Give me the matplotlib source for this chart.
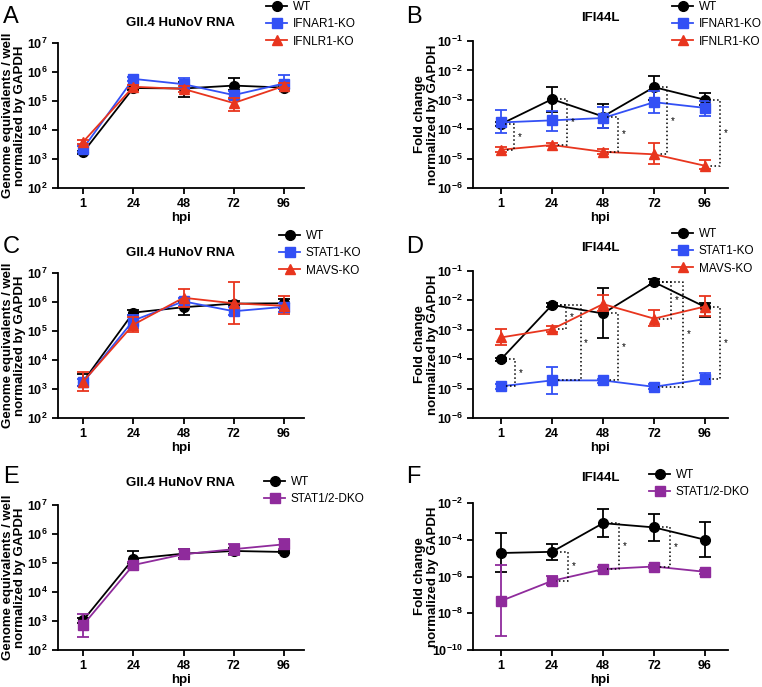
import matplotlib
matplotlib.use('Agg')
import matplotlib.pyplot as plt
import numpy as np

plt.rcParams['font.family'] = ['Liberation Sans', 'DejaVu Sans']
plt.rcParams['mathtext.fontset'] = 'custom'
plt.rcParams['mathtext.rm'] = 'Liberation Sans:bold'
plt.rcParams['mathtext.bf'] = 'Liberation Sans:bold'
plt.rcParams['mathtext.default'] = 'bf'

hpi = ['1', '24', '48', '72', '96']

# A: GII.4 HuNoV RNA (WT / IFNAR1-KO / IFNLR1-KO)
a_wt = [1.7e3, 2.8e5, 2.7e5, 3.4e5, 2.9e5]
a_wt_lo = [1.5e3, 2.4e5, 1.4e5, 2.4e5, 2.5e5]
a_wt_hi = [1.9e3, 3.3e5, 4.6e5, 6.0e5, 3.4e5]
a_ifnar1 = [2.3e3, 5.8e5, 3.8e5, 1.6e5, 4.0e5]
a_ifnar1_lo = [1.8e3, 4.8e5, 2.5e5, 1.2e5, 2.5e5]
a_ifnar1_hi = [2.8e3, 6.8e5, 6.0e5, 2.2e5, 8.0e5]
a_ifnlr1 = [3.9e3, 3.1e5, 2.6e5, 8.5e4, 3.3e5]
a_ifnlr1_lo = [3.3e3, 2.7e5, 2.0e5, 4.5e4, 2.7e5]
a_ifnlr1_hi = [4.5e3, 3.6e5, 3.4e5, 1.3e5, 4.2e5]

# B: IFI44L
b_wt = [1.5e-4, 1.05e-3, 2.7e-4, 2.7e-3, 1.0e-3]
b_wt_lo = [1.3e-4, 3.8e-4, 1.1e-4, 1.0e-3, 6.5e-4]
b_wt_hi = [1.8e-4, 2.8e-3, 7.0e-4, 6.5e-3, 1.7e-3]
b_ifnar1 = [1.7e-4, 2.0e-4, 2.4e-4, 8.3e-4, 5.3e-4]
b_ifnar1_lo = [7.5e-5, 8.5e-5, 1.1e-4, 3.5e-4, 2.9e-4]
b_ifnar1_hi = [4.5e-4, 4.3e-4, 5.8e-4, 2.0e-3, 9.0e-4]
b_ifnlr1 = [2.0e-5, 2.9e-5, 1.7e-5, 1.4e-5, 5.7e-6]
b_ifnlr1_lo = [1.7e-5, 2.6e-5, 1.4e-5, 6.5e-6, 4.5e-6]
b_ifnlr1_hi = [2.5e-5, 3.3e-5, 2.2e-5, 3.4e-5, 9.0e-6]

# C: GII.4 HuNoV RNA (WT / STAT1-KO / MAVS-KO)
c_wt = [1.8e3, 4.3e5, 6.6e5, 8.8e5, 9.0e5]
c_wt_lo = [1.3e3, 3.5e5, 3.7e5, 7.0e5, 6.0e5]
c_wt_hi = [3.3e3, 5.2e5, 1.0e6, 1.1e6, 1.3e6]
c_stat1 = [1.7e3, 2.3e5, 1.05e6, 4.8e5, 6.8e5]
c_stat1_lo = [1.3e3, 1.3e5, 7.0e5, 3.5e5, 4.5e5]
c_stat1_hi = [2.3e3, 3.5e5, 1.4e6, 6.5e5, 9.0e5]
c_mavs = [1.8e3, 1.65e5, 1.4e6, 9.0e5, 7.4e5]
c_mavs_lo = [8.5e2, 9.0e4, 6.8e5, 1.7e5, 4.0e5]
c_mavs_hi = [3.8e3, 3.0e5, 2.9e6, 4.9e6, 1.6e6]

# D: IFI44L
d_wt = [1.0e-4, 7.0e-3, 3.6e-3, 4.2e-2, 6.0e-3]
d_wt_lo = [9.0e-5, 6.0e-3, 5.3e-4, 3.3e-2, 2.7e-3]
d_wt_hi = [1.1e-4, 8.0e-3, 2.6e-2, 5.2e-2, 8.0e-3]
d_stat1 = [1.2e-5, 1.9e-5, 1.9e-5, 1.15e-5, 2.1e-5]
d_stat1_lo = [1.0e-5, 6.5e-6, 1.6e-5, 9.5e-6, 1.4e-5]
d_stat1_hi = [1.4e-5, 5.3e-5, 2.2e-5, 1.4e-5, 3.3e-5]
d_mavs = [5.5e-4, 1.05e-3, 7.5e-3, 2.4e-3, 6.2e-3]
d_mavs_lo = [3.0e-4, 8.5e-4, 4.2e-3, 1.3e-3, 3.0e-3]
d_mavs_hi = [1.05e-3, 1.35e-3, 1.5e-2, 4.8e-3, 1.4e-2]

# E: GII.4 HuNoV RNA (WT / STAT1/2-DKO)
e_wt = [1.05e3, 1.4e5, 2.1e5, 2.6e5, 2.4e5]
e_wt_lo = [8.5e2, 1.0e5, 1.5e5, 2.0e5, 2.2e5]
e_wt_hi = [1.3e3, 2.6e5, 3.0e5, 3.3e5, 2.7e5]
e_dko = [7.3e2, 8.5e4, 2.0e5, 3.0e5, 4.4e5]
e_dko_lo = [2.8e2, 6.5e4, 1.4e5, 1.9e5, 3.0e5]
e_dko_hi = [1.7e3, 1.1e5, 3.0e5, 4.7e5, 6.5e5]

# F: IFI44L
f_wt = [1.9e-5, 2.2e-5, 8.0e-4, 4.7e-4, 1.0e-4]
f_wt_lo = [1.7e-6, 8.0e-6, 1.4e-4, 9.0e-5, 1.1e-5]
f_wt_hi = [2.4e-4, 6.0e-5, 4.5e-3, 2.5e-3, 9.0e-4]
f_dko = [4.7e-8, 5.8e-7, 2.5e-6, 3.5e-6, 1.8e-6]
f_dko_lo = [6.0e-10, 3.3e-7, 2.0e-6, 2.8e-6, 1.4e-6]
f_dko_hi = [4.2e-6, 1.1e-6, 3.1e-6, 4.4e-6, 2.3e-6]

BLACK = '#000000'
BLUE = '#3350f5'
RED = '#e8351e'
PURPLE = '#8f2b9c'

W, H = 762, 687
fig = plt.figure(figsize=(W / 100, H / 100), dpi=100)


def px_axes(left, top, right, bottom):
    return fig.add_axes([left / W, 1 - bottom / H, (right - left) / W, (bottom - top) / H])


def draw(ax, series, ylim, yticks, xlim, ylabel, ylab_x):
    x = np.arange(len(hpi))
    for name, vals, lo, hi, color, marker in series:
        vals = np.array(vals)
        err = [vals - np.array(lo), np.array(hi) - vals]
        ax.errorbar(x, vals, yerr=err, fmt='none', ecolor=color, elinewidth=1.3,
                    capsize=4.5, capthick=1.3)
        ax.plot(x, vals, color=color, marker=marker, markersize=7, lw=1.3, label=name)
    ax.set_yscale('log')
    ax.set_ylim(ylim)
    ax.set_xlim(xlim)
    ax.set_yticks(yticks)
    ax.set_yticklabels([r'$10^{%d}$' % int(np.log10(t)) for t in yticks])
    ax.yaxis.set_minor_locator(matplotlib.ticker.NullLocator())
    ax.set_xticks(x)
    ax.set_xticklabels(hpi, fontweight='bold')
    ax.tick_params(labelsize=9, width=1.3, length=4)
    for s in ['top', 'right']:
        ax.spines[s].set_visible(False)
    for s in ['left', 'bottom']:
        ax.spines[s].set_linewidth(1.3)
    ax.set_xlabel('hpi', fontsize=9.5, fontweight='bold', labelpad=1)
    ax.set_ylabel(ylabel, fontsize=9.5, fontweight='bold', linespacing=1.05)
    ax.yaxis.set_label_coords(ylab_x, 0.5)


def brackets(ax, top, bots):
    for i, bot, off in bots:
        ax.plot([i + 0.08, i + off, i + off, i + 0.08], [top[i], top[i], bot[i], bot[i]],
                ':', color='k', lw=1.1)
        ax.text(i + off + 0.11, np.sqrt(top[i] * bot[i]), '*', fontsize=7,
                ha='center', va='center')


def legend(ax, left, top):
    leg = fig.legend(*ax.get_legend_handles_labels(), loc='upper left',
                     bbox_to_anchor=(left / W, 1 - top / H), frameon=False,
                     fontsize=8.5, borderpad=0, borderaxespad=0, handlelength=1.8,
                     handletextpad=0.45, labelspacing=0.45)
    return leg


rna_label = 'Genome equivalents / well\nnormalized by GAPDH'
fc_label = 'Fold change\nnormalized by GAPDH'
rna_ticks = [1e2, 1e3, 1e4, 1e5, 1e6, 1e7]
fc_ticks = [1e-6, 1e-5, 1e-4, 1e-3, 1e-2, 1e-1]

# A
axA = px_axes(58, 43, 304, 188)
draw(axA, [('WT', a_wt, a_wt_lo, a_wt_hi, BLACK, 'o'),
           ('IFNAR1-KO', a_ifnar1, a_ifnar1_lo, a_ifnar1_hi, BLUE, 's'),
           ('IFNLR1-KO', a_ifnlr1, a_ifnlr1_lo, a_ifnlr1_hi, RED, '^')],
     (1e2, 1e7), rna_ticks, (-0.5, 4.4), rna_label, -0.13)
axA.text(0.5, 1.138, 'GII.4 HuNoV RNA', transform=axA.transAxes, ha='center',
         va='center', fontsize=9.5, fontweight='bold')
legend(axA, 266, 1)

# B
axB = px_axes(473, 41, 728, 188)
draw(axB, [('WT', b_wt, b_wt_lo, b_wt_hi, BLACK, 'o'),
           ('IFNAR1-KO', b_ifnar1, b_ifnar1_lo, b_ifnar1_hi, BLUE, 's'),
           ('IFNLR1-KO', b_ifnlr1, b_ifnlr1_lo, b_ifnlr1_hi, RED, '^')],
     (1e-6, 1e-1), fc_ticks, (-0.55, 4.45), fc_label, -0.135)
brackets(axB, b_wt, [(0, b_ifnlr1, 0.25), (1, b_ifnlr1, 0.3), (2, b_ifnlr1, 0.29),
                     (3, b_ifnlr1, 0.25), (4, b_ifnlr1, 0.29)])
axB.text(0.5, 1.156, 'IFI44L', transform=axB.transAxes, ha='center',
         va='center', fontsize=9.5, fontweight='bold')
legend(axB, 672, 1)

# C
axC = px_axes(58, 273, 304, 418)
draw(axC, [('WT', c_wt, c_wt_lo, c_wt_hi, BLACK, 'o'),
           ('STAT1-KO', c_stat1, c_stat1_lo, c_stat1_hi, BLUE, 's'),
           ('MAVS-KO', c_mavs, c_mavs_lo, c_mavs_hi, RED, '^')],
     (1e2, 1e7), rna_ticks, (-0.5, 4.4), rna_label, -0.13)
axC.text(0.5, 1.138, 'GII.4 HuNoV RNA', transform=axC.transAxes, ha='center',
         va='center', fontsize=9.5, fontweight='bold')
legend(axC, 279, 230)

# D
axD = px_axes(473, 271, 728, 418)
draw(axD, [('WT', d_wt, d_wt_lo, d_wt_hi, BLACK, 'o'),
           ('STAT1-KO', d_stat1, d_stat1_lo, d_stat1_hi, BLUE, 's'),
           ('MAVS-KO', d_mavs, d_mavs_lo, d_mavs_hi, RED, '^')],
     (1e-6, 1e-1), fc_ticks, (-0.55, 4.45), fc_label, -0.135)
brackets(axD, d_wt, [(0, d_stat1, 0.28), (1, d_mavs, 0.28), (1, d_stat1, 0.56),
                     (2, d_stat1, 0.29), (3, d_mavs, 0.33), (3, d_stat1, 0.57),
                     (4, d_stat1, 0.29)])
axD.text(0.5, 1.156, 'IFI44L', transform=axD.transAxes, ha='center',
         va='center', fontsize=9.5, fontweight='bold')
legend(axD, 672, 228)

# E
axE = px_axes(58, 505, 304, 650)
draw(axE, [('WT', e_wt, e_wt_lo, e_wt_hi, BLACK, 'o'),
           ('STAT1/2-DKO', e_dko, e_dko_lo, e_dko_hi, PURPLE, 's')],
     (1e2, 1e7), rna_ticks, (-0.5, 4.4), rna_label, -0.13)
axE.text(0.5, 1.152, 'GII.4 HuNoV RNA', transform=axE.transAxes, ha='center',
         va='center', fontsize=9.5, fontweight='bold')
legend(axE, 264, 476)

# F
axF = px_axes(473, 503, 728, 650)
draw(axF, [('WT', f_wt, f_wt_lo, f_wt_hi, BLACK, 'o'),
           ('STAT1/2-DKO', f_dko, f_dko_lo, f_dko_hi, PURPLE, 's')],
     (1e-10, 1e-2), [1e-10, 1e-8, 1e-6, 1e-4, 1e-2], (-0.55, 4.45), fc_label, -0.135)
brackets(axF, f_wt, [(1, f_dko, 0.31), (2, f_dko, 0.31), (3, f_dko, 0.31)])
axF.text(0.5, 1.17, 'IFI44L', transform=axF.transAxes, ha='center',
         va='center', fontsize=9.5, fontweight='bold')
legend(axF, 649, 469)

# panel letters
for letter, x, y in [('A', 3, 6), ('B', 406, 6), ('C', 3, 236), ('D', 406, 236),
                     ('E', 3, 466), ('F', 406, 466)]:
    fig.text(x / W, 1 - y / H, letter, fontsize=17, va='top', ha='left')

fig.savefig('out.png', dpi=100)
